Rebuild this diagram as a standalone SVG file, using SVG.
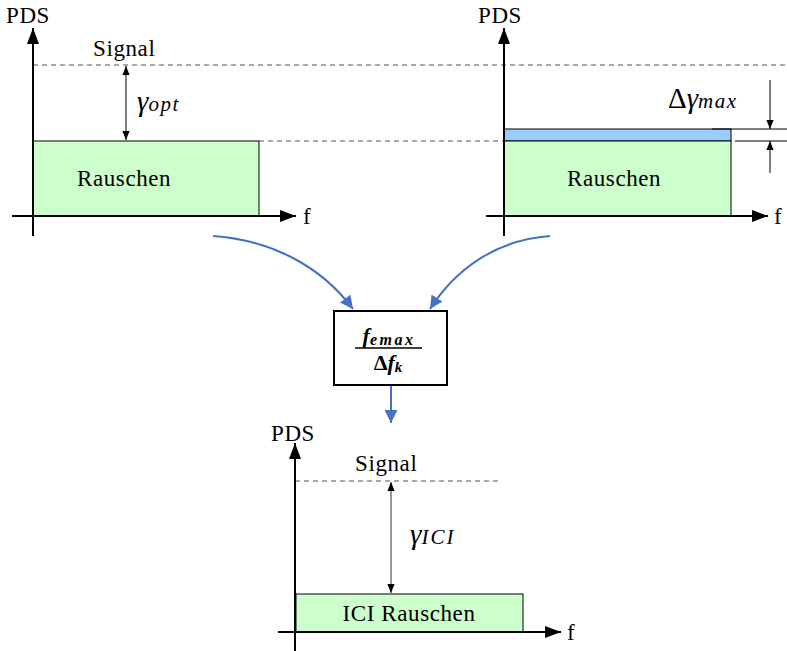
<svg xmlns="http://www.w3.org/2000/svg" width="787" height="651" viewBox="0 0 787 651">
<style>
text{font-family:"Liberation Serif","Times New Roman",serif;fill:#000}
.lbl{font-size:23px;letter-spacing:0.6px}
.m{font-style:italic}
.axis{stroke:#000;stroke-width:2;fill:none}
.dash{stroke:#555;stroke-width:1.2;stroke-dasharray:5,4;fill:none}
.thin{stroke:#000;stroke-width:1;fill:none}
.blue{stroke:#4472c4;stroke-width:2;fill:none}
</style>
<defs>
<marker id="ahBig" viewBox="0 0 16 12" refX="16" refY="6" markerWidth="16" markerHeight="12" markerUnits="userSpaceOnUse" orient="auto"><path d="M0,0 L16,6 L0,12 z" fill="#000"/></marker>
<marker id="ahS" viewBox="0 0 10 10" refX="10" refY="5" markerWidth="9" markerHeight="9" markerUnits="userSpaceOnUse" orient="auto-start-reverse"><path d="M0,1 L10,5 L0,9 z" fill="#000"/></marker>
<marker id="ahB" viewBox="0 0 12 12" refX="12" refY="6" markerWidth="13" markerHeight="13" markerUnits="userSpaceOnUse" orient="auto"><path d="M0,0 L12,6 L0,12 z" fill="#4472c4"/></marker>
</defs>

<g id="panel1">
<rect x="33" y="141" width="226" height="75" fill="#ccffcc" stroke="#000" stroke-width="1"/>
<line class="dash" x1="33" y1="65" x2="787" y2="65"/>
<line class="dash" x1="259" y1="141" x2="504" y2="141"/>
<line class="axis" x1="33" y1="236" x2="33" y2="28" marker-end="url(#ahBig)"/>
<line class="axis" x1="12" y1="216" x2="296" y2="216" marker-end="url(#ahBig)"/>
<line class="thin" x1="126" y1="66" x2="126" y2="140" marker-start="url(#ahS)" marker-end="url(#ahS)"/>
<text class="lbl" x="6" y="23">PDS</text>
<text class="lbl" x="93" y="56">Signal</text>
<text class="lbl" x="77" y="186">Rauschen</text>
<text class="lbl" x="303" y="224">f</text>
<text x="137" y="111" font-size="29" class="m">γ<tspan font-size="21" letter-spacing="1.5">opt</tspan></text>
</g>

<g id="panel2">
<rect x="504" y="129" width="227" height="12" fill="#99ccff" stroke="#000" stroke-width="1"/>
<rect x="504" y="141" width="227" height="75" fill="#ccffcc" stroke="#000" stroke-width="1"/>
<line class="thin" x1="712" y1="129" x2="787" y2="129"/>
<line class="thin" x1="735" y1="141" x2="787" y2="141"/>
<line class="axis" x1="504" y1="236" x2="504" y2="28" marker-end="url(#ahBig)"/>
<line class="axis" x1="486" y1="216" x2="768" y2="216" marker-end="url(#ahBig)"/>
<line class="thin" x1="770" y1="80" x2="770" y2="129" marker-end="url(#ahS)"/>
<line class="thin" x1="770" y1="173" x2="770" y2="141" marker-end="url(#ahS)"/>
<text class="lbl" x="478" y="23">PDS</text>
<text class="lbl" x="567" y="186">Rauschen</text>
<text class="lbl" x="774" y="224">f</text>
<text x="668" y="108" font-size="29"><tspan>Δ</tspan><tspan class="m">γ</tspan><tspan class="m" font-size="21" letter-spacing="1.5">max</tspan></text>
</g>

<g id="box">
<rect x="334" y="311" width="113" height="74" fill="#fff" stroke="#000" stroke-width="2"/>
<text x="389" y="343" font-size="22" font-weight="bold" class="m" text-anchor="middle">f<tspan font-size="16" letter-spacing="2.5" dy="2">emax</tspan></text>
<line x1="355" y1="348" x2="422" y2="348" stroke="#000" stroke-width="1.5"/>
<text x="388" y="370" font-size="22" font-weight="bold" text-anchor="middle">Δ<tspan class="m">f</tspan><tspan class="m" font-size="15" dy="2">k</tspan></text>
</g>

<g id="panel3">
<rect x="296" y="594" width="227" height="38" fill="#ccffcc" stroke="#000" stroke-width="1"/>
<line class="dash" x1="295" y1="481" x2="500" y2="481"/>
<line class="axis" x1="295" y1="651" x2="295" y2="443" marker-end="url(#ahBig)"/>
<line class="axis" x1="278" y1="632" x2="561" y2="632" marker-end="url(#ahBig)"/>
<line x1="391" y1="482" x2="391" y2="593" stroke="#555" stroke-width="1.2" marker-start="url(#ahS)" marker-end="url(#ahS)"/>
<text class="lbl" x="271" y="441">PDS</text>
<text class="lbl" x="355" y="471">Signal</text>
<text class="lbl" x="409" y="621" text-anchor="middle">ICI Rauschen</text>
<text class="lbl" x="567" y="640">f</text>
<text x="410" y="544" font-size="29" class="m">γ<tspan font-size="21" letter-spacing="2">ICI</tspan></text>
</g>

<g id="connectors">
<path class="blue" d="M213,236 C270,240 320,265 353,309" marker-end="url(#ahB)"/>
<path class="blue" d="M550,236 C495,240 455,270 430,309" marker-end="url(#ahB)"/>
<line class="blue" x1="391" y1="386" x2="391" y2="423" marker-end="url(#ahB)"/>
</g>
</svg>
